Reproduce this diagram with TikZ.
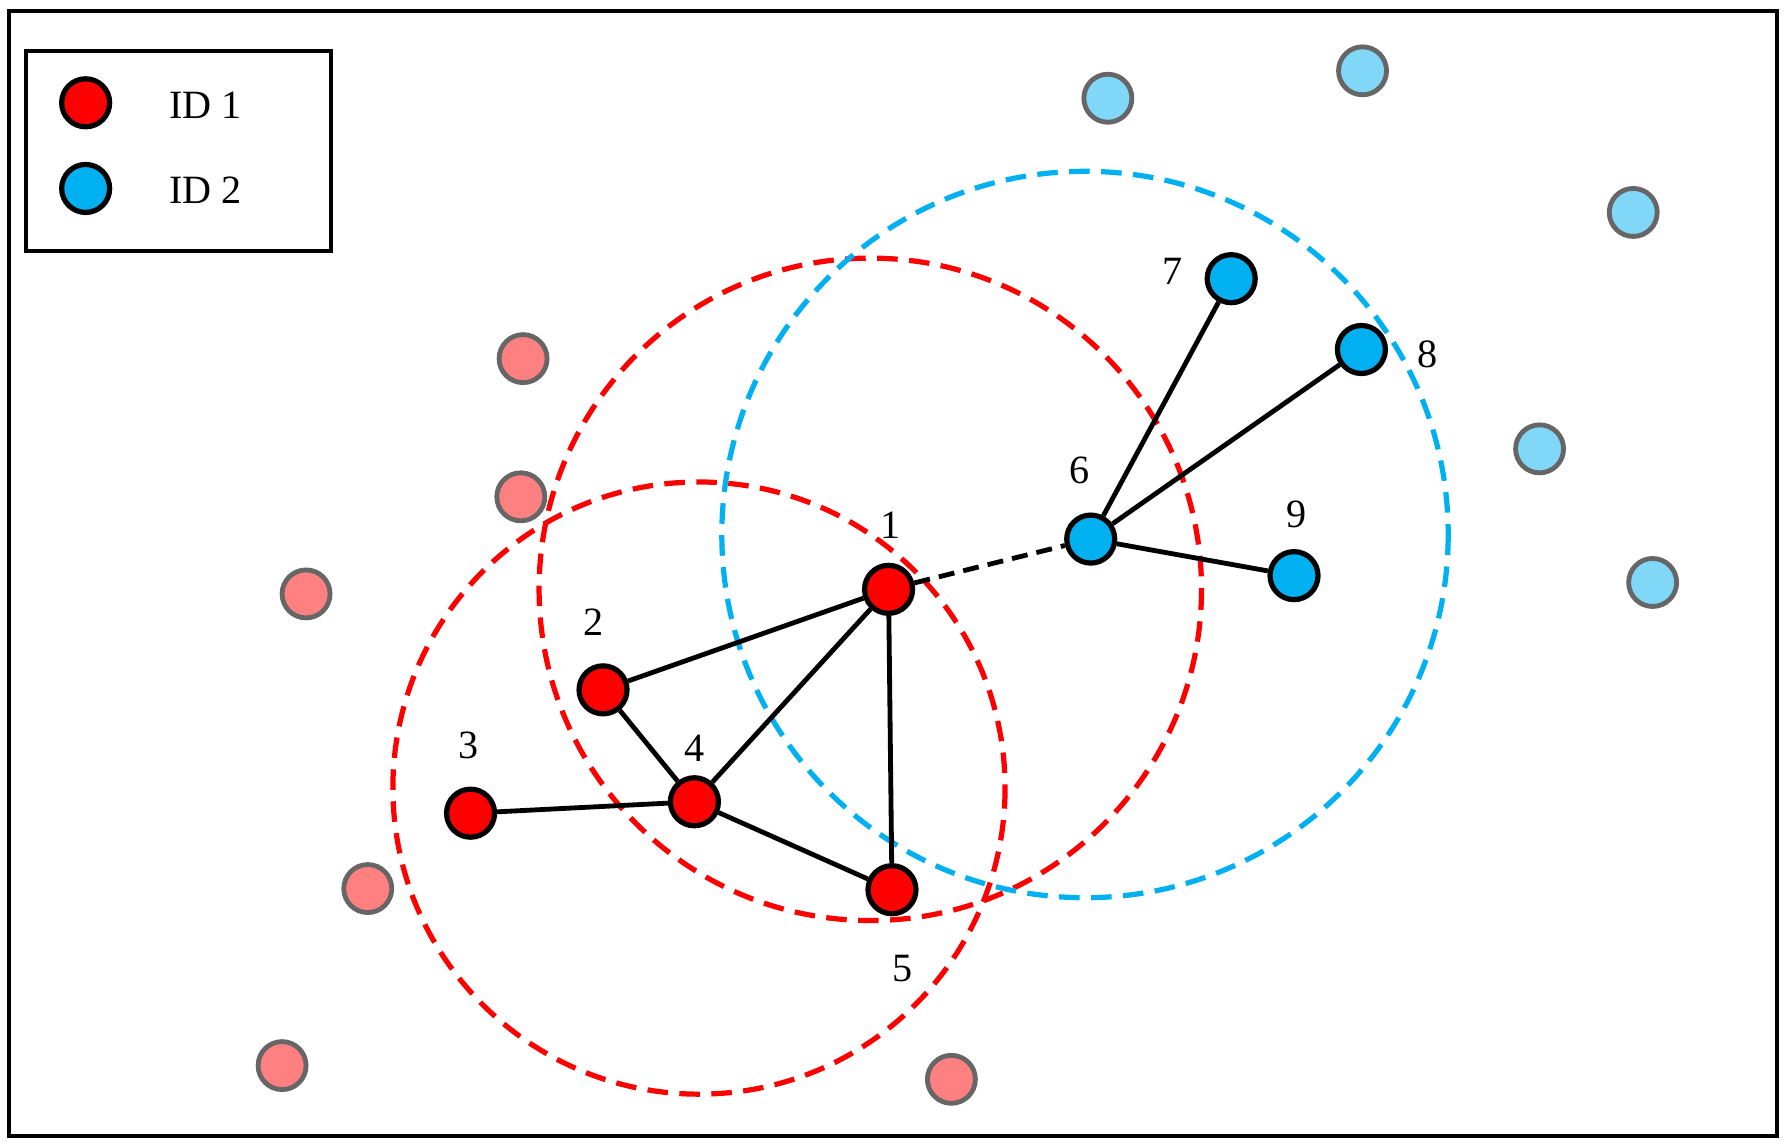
\documentclass[tikz,border=0pt]{standalone}
\usepackage{fontspec}
\setmainfont{Liberation Serif}
\begin{document}
\begin{tikzpicture}[x=0.01cm,y=-0.01cm,
  rn/.style={circle,draw=black,line width=1.3pt,fill=red,minimum size=0.42cm,inner sep=0},
  bn/.style={circle,draw=black,line width=1.3pt,fill=cyan!70!blue!80,minimum size=0.42cm,inner sep=0},
  fr/.style={circle,draw=black!60,line width=1.2pt,fill=red!50,minimum size=0.42cm,inner sep=0},
  fb/.style={circle,draw=black!60,line width=1.2pt,fill=cyan!50,minimum size=0.42cm,inner sep=0},
  lab/.style={font=\fontsize{10}{12}\selectfont},
  ed/.style={line width=1.2pt},
  rng/.style={line width=1.3pt,dash pattern=on 0.18cm off 0.1cm}]
\definecolor{myblue}{HTML}{00B0F0}
\tikzset{bn/.append style={fill=myblue}, fb/.append style={fill=myblue!50}}
\useasboundingbox (0,0) rectangle (1562,1000);
\draw[line width=1pt] (8,10) rectangle (1556,995);
% range circles
\draw[rng,red] (762,516) circle[radius=290];
\draw[rng,red] (612,690) circle[radius=268];
\draw[rng,myblue] (950,468) circle[radius=318];
% legend
\draw[line width=1pt,fill=white] (23,45) rectangle (290,220);
\node[rn] (lr) at (75,90) {};
\node[lab] (lt1) at (180,92) {ID 1};
\node[bn] (lb) at (75,165) {};
\node[lab] (lt2) at (180,167) {ID 2};
% faded
\foreach \p [count=\i] in {(458,314),(456,435),(268,520),(322,778),(247,933),(833,945)} \node[fr] (fr\i) at \p {};
\foreach \p [count=\i] in {(970,86),(1193,62),(1430,186),(1348,393),(1447,510)} \node[fb] (fb\i) at \p {};
% nodes
\node[rn] (n1) at (778,516) {};
\node[rn] (n2) at (528,604) {};
\node[rn] (n3) at (412,712) {};
\node[rn] (n4) at (608,702) {};
\node[rn] (n5) at (781,779) {};
\node[bn] (n6) at (955,472) {};
\node[bn] (n7) at (1078,244) {};
\node[bn] (n8) at (1192,306) {};
\node[bn] (n9) at (1133,504) {};
\draw[ed] (n1)--(n2) (n1)--(n4) (n1)--(n5) (n2)--(n4) (n3)--(n4) (n4)--(n5)
  (n6)--(n7) (n6)--(n8) (n6)--(n9);
\draw[ed,dash pattern=on 0.14cm off 0.08cm] (n1)--(n6);
\node[lab] (l1) at (780,460) {1};
\node[lab] (l2) at (520,545) {2};
\node[lab] (l3) at (410,653) {3};
\node[lab] (l4) at (608,655) {4};
\node[lab] (l5) at (790,848) {5};
\node[lab] (l6) at (945,412) {6};
\node[lab] (l7) at (1027,238) {7};
\node[lab] (l8) at (1250,310) {8};
\node[lab] (l9) at (1135,450) {9};
\end{tikzpicture}
\end{document}
